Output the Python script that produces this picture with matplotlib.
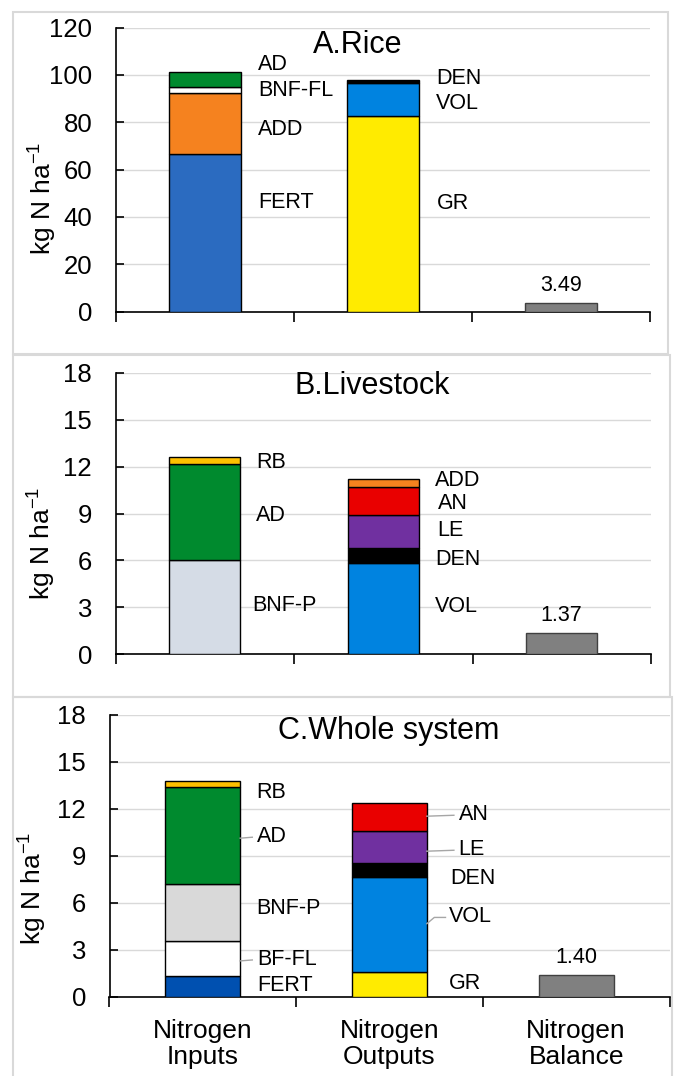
import matplotlib
matplotlib.use('Agg')
import matplotlib.pyplot as plt
from matplotlib.patches import Rectangle

plt.rcParams['font.family'] = ['Liberation Sans', 'DejaVu Sans']
plt.rcParams['mathtext.default'] = 'regular'

categories = ['Nitrogen\nInputs', 'Nitrogen\nOutputs', 'Nitrogen\nBalance']

# A. Rice (segment sizes, bottom to top)
rice_in_names = ['FERT', 'ADD', 'BNF-FL', 'AD']
rice_in_vals = [66.5, 25.8, 2.7, 6.2]
rice_in_cols = ['#2B6BC0', '#F5821F', '#FFFFFF', '#008A2E']
rice_out_names = ['GR', 'VOL', 'DEN']
rice_out_vals = [82.7, 14.1, 1.0]
rice_out_cols = ['#FFEB00', '#0083E0', '#000000']
rice_balance = 3.49

# B. Livestock
live_in_names = ['BNF-P', 'AD', 'RB']
live_in_vals = [6.0, 6.18, 0.42]
live_in_cols = ['#D5DCE6', '#008A2E', '#FFC000']
live_out_names = ['VOL', 'DEN', 'LE', 'AN', 'ADD']
live_out_vals = [5.84, 0.93, 2.11, 1.81, 0.54]
live_out_cols = ['#0083E0', '#000000', '#7030A0', '#E90000', '#F5821F']
live_balance = 1.37

# C. Whole system
whole_in_names = ['FERT', 'BF-FL', 'BNF-P', 'AD', 'RB']
whole_in_vals = [1.31, 2.27, 3.63, 6.15, 0.42]
whole_in_cols = ['#0050B0', '#FFFFFF', '#D9D9D9', '#008A2E', '#FFC000']
whole_out_names = ['GR', 'VOL', 'DEN', 'LE', 'AN']
whole_out_vals = [1.61, 6.02, 0.93, 2.0, 1.82]
whole_out_cols = ['#FFEB00', '#0083E0', '#000000', '#7030A0', '#E90000']
whole_balance = 1.40

# label placement (y in data units, x offset from bar centre)
rice_in_lab = [46, 77, 93.4, 104.6]
rice_out_lab = [45.5, 88, 98.6]
live_in_lab = [3.15, 8.9, 12.25]
live_out_lab = [3.05, 6.07, 7.9, 9.65, 11.1]
whole_in_lab = [0.72, 2.38, 5.66, 10.2, 13.0]
whole_out_lab = [0.89, 5.12, 7.52, 9.37, 11.6]
whole_in_lead = [False, True, False, True, False]
whole_out_lead = [False, True, False, True, True]

W, H = 674, 1076
fig = plt.figure(figsize=(W / 100, H / 100), dpi=100)

# panel frames
for (x0, y0, x1, y1) in [(13, 12, 668, 354), (13, 355, 670, 697), (13, 697, 672, 1090)]:
    fig.patches.append(Rectangle((x0 / W, 1 - y1 / H), (x1 - x0) / W, (y1 - y0) / H,
                                 transform=fig.transFigure, fill=False,
                                 edgecolor='#d9d9d9', lw=1.5))


def make_ax(l, r, t, b):
    return fig.add_axes([l / W, 1 - b / H, (r - l) / W, (b - t) / H])


def draw(ax, ymax, step, title, tpos, in_data, out_data, balance, in_dx, out_dx,
         ylab_y, leads=None, show_cats=False):
    bw = 0.4
    for i, (names, vals, cols, laby) in enumerate([in_data, out_data]):
        bottom = 0
        for v, c in zip(vals, cols):
            ax.bar(i, v, bw, bottom=bottom, color=c, edgecolor='black', lw=1.0, zorder=3)
            bottom += v
        dx = in_dx if i == 0 else out_dx
        for k, (n, y) in enumerate(zip(names, laby)):
            xl = i + dx[k] if isinstance(dx, list) else i + dx
            ax.text(xl, y, n, fontsize=15.5, ha='left', va='center', zorder=4)
            if leads is not None and leads[i][k]:
                x_edge = i + bw / 2
                if n == 'VOL':
                    ax.plot([x_edge, x_edge + 0.04, xl - 0.02], [y - 0.45, y - 0.05, y - 0.05],
                            color='#a6a6a6', lw=1, zorder=4)
                else:
                    ax.plot([x_edge, xl - 0.025], [y - 0.08, y - 0.02],
                            color='#a6a6a6', lw=1, zorder=4)
    ax.bar(2, balance, bw, color='#808080', edgecolor='#404040', lw=1.0, zorder=3)
    ax.annotate(f'{balance:.2f}', (2, balance), xytext=(0, 5), textcoords='offset points',
                ha='center', va='bottom', fontsize=15.5)

    ax.set_xlim(-0.5, 2.5)
    ax.set_ylim(0, ymax)
    ax.set_yticks(range(0, ymax + 1, step))
    ax.yaxis.grid(True, color='#d9d9d9', lw=1)
    ax.set_axisbelow(True)
    for s in ['top', 'right']:
        ax.spines[s].set_visible(False)
    for s in ['left', 'bottom']:
        ax.spines[s].set_linewidth(1.2)
    ax.tick_params(axis='y', direction='in', length=6, width=1.2, labelsize=18.5, pad=17)
    ax.set_xticks([0, 1, 2])
    ax.set_xticks([-0.5, 0.5, 1.5, 2.5], minor=True)
    ax.tick_params(axis='x', which='minor', direction='out', length=7, width=1.2)
    ax.tick_params(axis='x', which='major', length=0, labelsize=19, pad=16)
    if show_cats:
        ax.set_xticklabels(categories, linespacing=1.1)
    else:
        ax.set_xticklabels([])
    ax.text(tpos[0], tpos[1], title, transform=ax.transAxes, fontsize=22,
            ha='center', va='baseline')
    ax.text(-0.137, ylab_y, 'kg N ha$^{-1}$', transform=ax.transAxes, rotation=90,
            fontsize=19, ha='center', va='center')


axA = make_ax(116, 650, 27.7, 311.5)
draw(axA, 120, 20, 'A.Rice', (0.453, 0.912),
     (rice_in_names, rice_in_vals, rice_in_cols, rice_in_lab),
     (rice_out_names, rice_out_vals, rice_out_cols, rice_out_lab),
     rice_balance, 0.30, 0.30, 0.40)

axB = make_ax(115.5, 651, 372.7, 654.3)
draw(axB, 18, 3, 'B.Livestock', (0.479, 0.924),
     (live_in_names, live_in_vals, live_in_cols, live_in_lab),
     (live_out_names, live_out_vals, live_out_cols, live_out_lab),
     live_balance, [0.265, 0.285, 0.29], [0.29, 0.29, 0.30, 0.305, 0.29], 0.395)

axC = make_ax(109.5, 669.5, 714.5, 997)
draw(axC, 18, 3, 'C.Whole system', (0.498, 0.915),
     (whole_in_names, whole_in_vals, whole_in_cols, whole_in_lab),
     (whole_out_names, whole_out_vals, whole_out_cols, whole_out_lab),
     whole_balance, [0.29, 0.29, 0.285, 0.29, 0.285], [0.32, 0.32, 0.325, 0.37, 0.37], 0.385,
     leads=(whole_in_lead, whole_out_lead), show_cats=True)

fig.savefig('out.png', dpi=100)
